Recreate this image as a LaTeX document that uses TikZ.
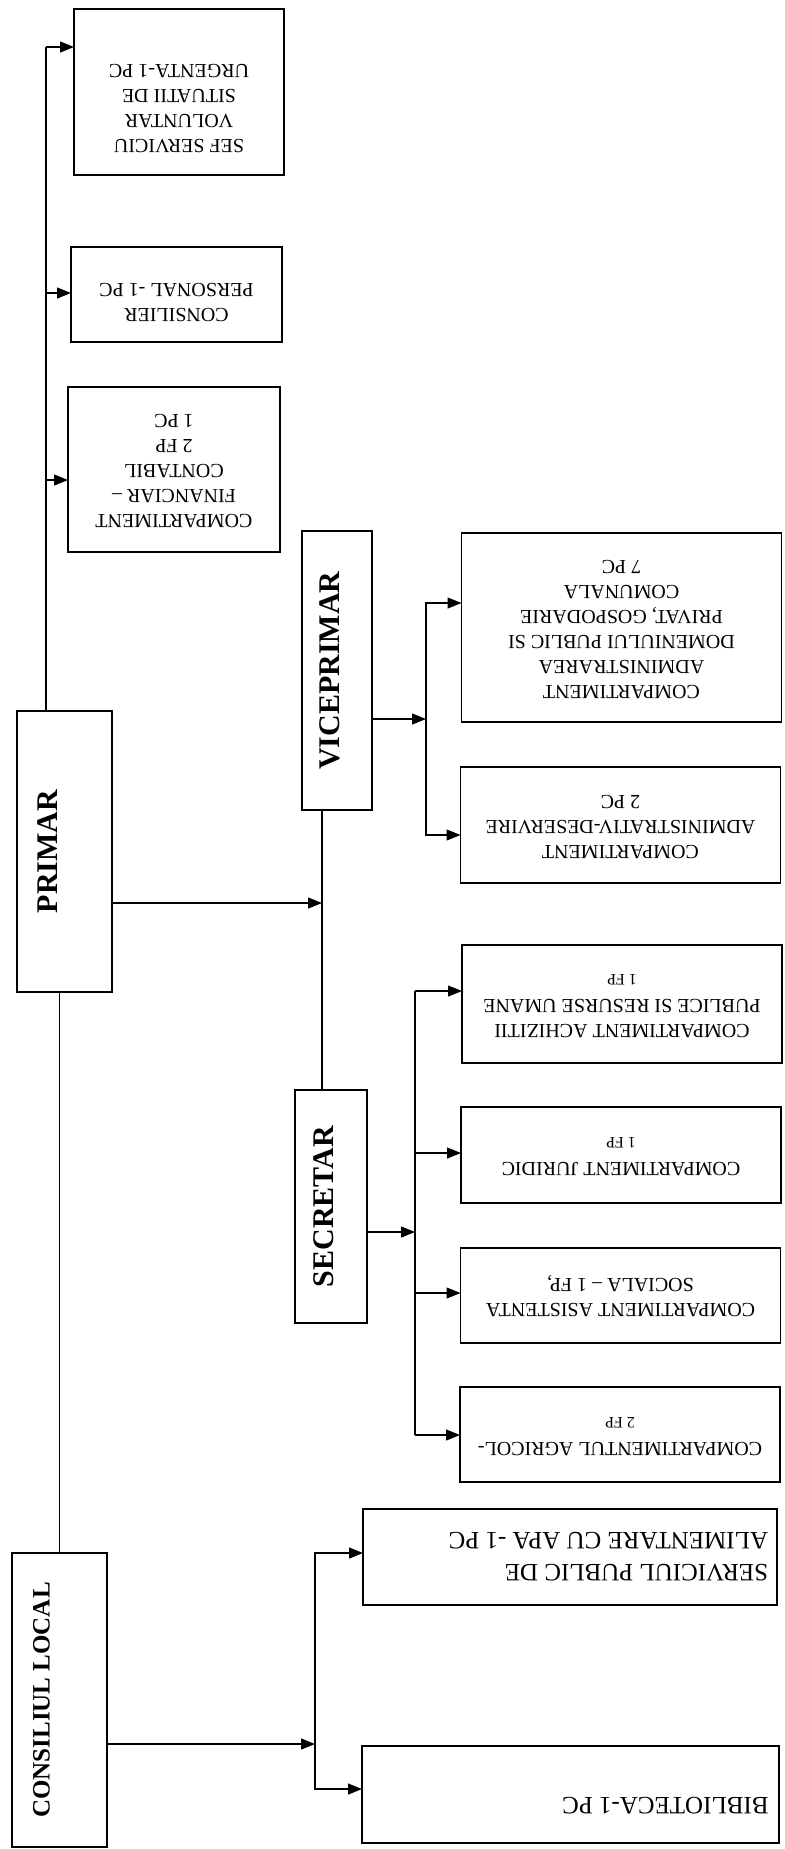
\documentclass[tikz,border=0pt]{standalone}
\usepackage{fontspec}
\setmainfont{Liberation Serif}
\usetikzlibrary{arrows.meta}

% texts of the scanned chart are turned
\newcommand{\uplabel}[3]{\rotatebox{90}{\raisebox{#1}[\height][\depth]{\fontsize{#2}{#2}\selectfont\bfseries #3}}}
\newcommand{\downtext}[2][0pt]{\rotatebox{180}{\raisebox{#1}[\height][\depth]{\begin{tabular}{@{}c@{}}#2\end{tabular}}}}
\newcommand{\downpar}[1]{\rotatebox{180}{\parbox{198pt}{\raggedright\fontsize{12.5}{16}\selectfont #1}}}
\newcommand{\smallfp}[1]{{\fontsize{8}{10}\selectfont #1}}

\begin{document}
\begin{tikzpicture}[x=0.5pt, y=-0.5pt, >={Triangle[length=7pt,width=5.5pt]},
  every node/.style={draw, rectangle, inner sep=0pt, outer sep=0pt, line width=0.7pt},
  staffbox/.style={font=\fontsize{10}{12.5}\selectfont},
  deptbox/.style={minimum width=160pt, font=\fontsize{10}{12.5}\selectfont},
  link/.style={line width=0.6pt}]
  \useasboundingbox (0,0) rectangle (784,1849);

  % Leadership
  \node[minimum width=47.5pt, minimum height=140.5pt] (primar) at (64.5,851.5) {\uplabel{8.5pt}{15}{PRIMAR}};
  \node[minimum width=35pt, minimum height=139.5pt] (viceprimar) at (337,670.5) {\uplabel{3.5pt}{15}{VICEPRIMAR}};
  \node[minimum width=36pt, minimum height=116.5pt] (secretar) at (331,1206.5) {\uplabel{3.5pt}{15}{SECRETAR}};
  \node[minimum width=47.5pt, minimum height=147pt] (consiliu) at (59.5,1700) {\uplabel{9pt}{12.5}{CONSILIUL LOCAL}};

  % Staff of the mayor
  \node[staffbox, minimum width=105pt, minimum height=83pt] (sef) at (179,92)
    {\downtext[7.5pt]{SEF SERVICIU\\ VOLUNTAR\\ SITUATII DE\\ URGENTA-1 PC}};
  \node[staffbox, minimum width=105.5pt, minimum height=47.5pt] (consilier) at (176.5,294.5)
    {\downtext[3pt]{CONSILIER\\ PERSONAL -1 PC}};
  \node[staffbox, minimum width=106pt, minimum height=82.5pt] (financiar) at (174,469.5)
    {\downtext{COMPARTIMENT\\ FINANCIAR –\\ CONTABIL\\ 2 FP\\ 1 PC}};

  % Departments
  \node[deptbox, minimum height=94.5pt] (domeniu) at (621.5,627.5)
    {\downtext{COMPARTIMENT\\ ADMINISTRAREA\\ DOMENIULUI PUBLIC SI\\ PRIVAT, GOSPODARIE\\ COMUNALA\\ 7 PC}};
  \node[deptbox, minimum height=58pt] (deservire) at (620.5,825)
    {\downtext{COMPARTIMENT\\ ADMINISTRATIV-DESERVIRE\\ 2 PC}};
  \node[deptbox, minimum height=59pt] (achizitii) at (622,1004)
    {\downtext{COMPARTIMENT ACHIZITII\\ PUBLICE SI RESURSE UMANE\\ \smallfp{1 FP}}};
  \node[deptbox, minimum height=48pt] (juridic) at (621,1155)
    {\downtext{COMPARTIMENT JURIDIC\\ \smallfp{1 FP}}};
  \node[deptbox, minimum height=47.5pt] (asistenta) at (620.5,1295.5)
    {\downtext{COMPARTIMENT ASISTENTA\\ SOCIALA – 1 FP,}};
  \node[deptbox, minimum height=47.5pt] (agricol) at (620,1434.5)
    {\downtext{COMPARTIMENTUL AGRICOL-\\ \smallfp{2 FP}}};
  \node[minimum width=207pt, minimum height=48pt] (serviciu) at (570,1557)
    {\downpar{SERVICIUL PUBLIC DE\\ ALIMENTARE CU APA -1 PC}};
  \node[minimum width=208.5pt, minimum height=48.5pt] (biblioteca) at (570.5,1794.5)
    {\rotatebox{180}{\parbox[c][20pt][t]{198pt}{\raggedright\fontsize{12.5}{16}\selectfont BIBLIOTECA-1 PC}}};

  % Trunk
  \coordinate (trunk) at (46,47);
  \draw[link] (primar.north -| trunk) -- (trunk);
  \foreach \n/\y in {sef/47, consilier/293, financiar/480}
    \draw[link, ->] (trunk |- 0,\y) -- (\n.west |- 0,\y);
  \draw[link] (consiliu.north) -- (consiliu.north |- primar.south);

  % Primar to viceprimar and secretar
  \coordinate (mid) at (322,903);
  \draw[link, ->] (mid -| primar.east) -- (mid);
  \draw[link] (viceprimar.south -| mid) -- (secretar.north -| mid);

  % Viceprimar
  \coordinate (vbr) at (426,719);
  \draw[link, ->] (vbr -| viceprimar.east) -- (vbr);
  \draw[link, <->] (domeniu.west |- 0,603) -- (vbr |- 0,603) -- (vbr |- 0,835) -- (deservire.west |- 0,835);

  % Secretar
  \coordinate (sbr) at (415,1232);
  \draw[link, ->] (sbr -| secretar.east) -- (sbr);
  \draw[link] (sbr |- 0,991) -- (sbr |- 0,1435);
  \foreach \n/\y in {achizitii/991, juridic/1153, asistenta/1293, agricol/1435}
    \draw[link, ->] (sbr |- 0,\y) -- (\n.west |- 0,\y);

  % Consiliul local
  \coordinate (cbr) at (315,1744);
  \draw[link, ->] (cbr -| consiliu.east) -- (cbr);
  \draw[link, <->] (serviciu.west |- 0,1553) -- (cbr |- 0,1553) -- (cbr |- 0,1789) -- (biblioteca.west |- 0,1789);
\end{tikzpicture}
\end{document}
